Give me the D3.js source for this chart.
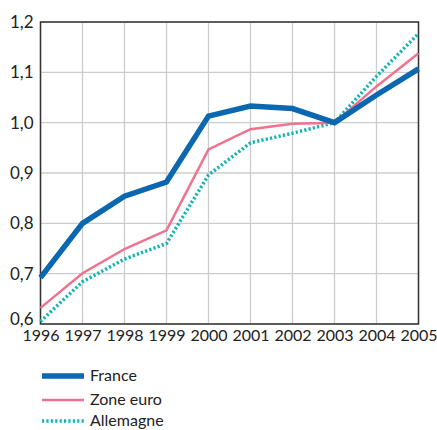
<!DOCTYPE html>
<html><head><meta charset="utf-8">
<script src="https://cdn.jsdelivr.net/npm/d3@7"></script>
<style>body{margin:0;background:#fff;} svg{display:block;}</style>
</head><body>
<svg id="c" width="437" height="430"></svg>
<script>
const years = [1996,1997,1998,1999,2000,2001,2002,2003,2004,2005];
const france = [0.692,0.800,0.854,0.882,1.013,1.033,1.028,1.000,1.055,1.107];
const zoneEuro = [0.632,0.701,0.749,0.786,0.947,0.987,0.998,1.000,1.072,1.138];
const allemagne = [0.605,0.684,0.729,0.760,0.896,0.960,0.979,1.000,1.092,1.177];
const yTicks = [0.6,0.7,0.8,0.9,1.0,1.1,1.2];
const seriesNames = ["France","Zone euro","Allemagne"];

const svg = d3.select("#c");
const m = {l:40.5, r:418.5, t:22, b:324};
const x = d3.scaleLinear().domain([1996,2005]).range([m.l,m.r]);
const y = d3.scaleLinear().domain([0.6,1.2]).range([m.b,m.t]);
const font = "Lato, 'Open Sans', sans-serif";

// grid
svg.append("g").selectAll("line.v").data(years).join("line")
  .attr("x1",d=>x(d)).attr("x2",d=>x(d)).attr("y1",m.t).attr("y2",m.b)
  .attr("stroke","#cccccc").attr("stroke-width",1.3);
svg.append("g").selectAll("line.h").data(yTicks).join("line")
  .attr("x1",m.l).attr("x2",m.r).attr("y1",d=>y(d)).attr("y2",d=>y(d))
  .attr("stroke","#cccccc").attr("stroke-width",1.3);

// axes
const fmt = d=>d3.format(".1f")(d).replace(".",",");
const ya = svg.append("g").attr("transform",`translate(${m.l},0)`)
  .call(d3.axisLeft(y).tickValues(yTicks).tickFormat(fmt).tickSize(0).tickPadding(7));
ya.select(".domain").remove();
ya.selectAll("text").attr("font-family",font).attr("font-size",17).attr("fill","#222");
ya.selectAll(".tick").filter(d=>d===0.6).select("text").attr("dy","0.02em");
const xa = svg.append("g").attr("transform",`translate(0,${m.b})`)
  .call(d3.axisBottom(x).tickValues(years).tickFormat(d3.format("d")).tickSize(0).tickPadding(6));
xa.select(".domain").remove();
xa.selectAll("text").attr("font-family",font).attr("font-size",16).attr("fill","#222");

// frame
svg.append("rect").attr("x",m.l).attr("y",m.t).attr("width",m.r-m.l).attr("height",m.b-m.t)
  .attr("fill","none").attr("stroke","#333").attr("stroke-width",1.5);

const styles = [
  {data:france, color:"#0a67b0", w:5.5, dash:null},
  {data:zoneEuro, color:"#f0728f", w:2.5, dash:null},
  {data:allemagne, color:"#12b5b5", w:3.5, dash:"2.2,2.2"}
];
const line = d3.line().x((d,i)=>x(years[i])).y(d=>y(d));
const drawOrder = [2,1,0];
drawOrder.forEach(i=>{
  const s = styles[i];
  svg.append("path").attr("d",line(s.data)).attr("fill","none")
    .attr("stroke",s.color).attr("stroke-width",s.w)
    .attr("stroke-dasharray",s.dash).attr("stroke-linejoin","miter");
});

// legend
const lg = svg.append("g");
const ly = [376,400,421];
seriesNames.forEach((n,i)=>{
  const s = styles[i];
  lg.append("line").attr("x1",42).attr("x2",84).attr("y1",ly[i]).attr("y2",ly[i])
    .attr("stroke",s.color).attr("stroke-width",s.w).attr("stroke-dasharray",s.dash);
  lg.append("text").attr("x",90).attr("y",ly[i]).attr("dy","0.33em")
    .attr("font-family",font).attr("font-size",16).attr("fill","#222").text(n);
});
</script>
</body></html>
